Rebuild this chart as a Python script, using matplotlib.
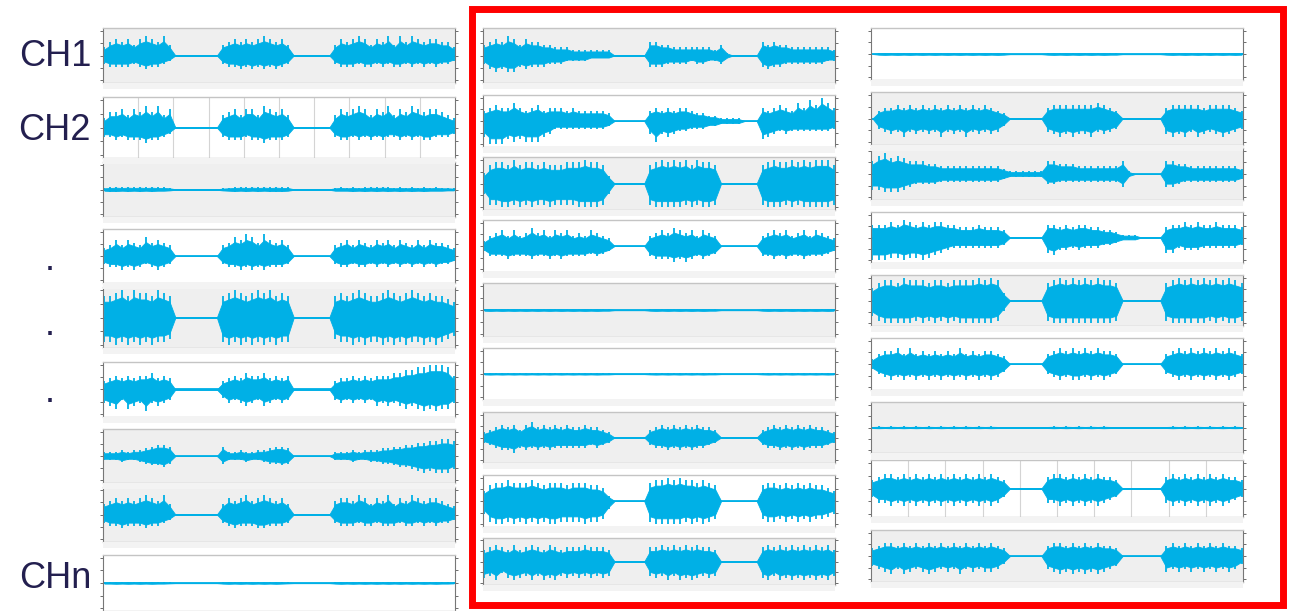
"""Montage of multichannel EMG-like traces, three columns of nine channels."""
import numpy as np
import matplotlib
matplotlib.use("Agg")
import matplotlib.pyplot as plt
from matplotlib.patches import Rectangle

# envelope levels, one digit per step (tenths of half-height)
# segments per column: burst1 / gap / burst2 / gap / burst3
LEFT_UP = [
    "356564676574 00000000 456565676564 0000000 465676465747576566553",
    "355646575746 00000000 456466476564 0000000 465676465746576566543",
    "456565656554 11111111 345656565655 1111111 454545656545454545443",
    "346465475654 00000000 457687586564 0000000 456465465646546465543",
    "778979887987 00000000 789878989787 0000000 787898778987898787765",
    "345454556454 00000000 345465564545 0000000 344545455566778899985",
    "222323345665 00000000 522322334554 0000000 222323334455667788998",
    "456565676574 00000000 465675676564 0000000 566576465746576566543",
    "334343434332 11111111 343434343432 1111111 343434343434343434332",
]
LEFT_LO = [
    "344443454432 00000000 344545454543 0000000 344434434344343434332",
    "334344454432 00000000 344434454443 0000000 344343434334343443332",
    "455454545443 11111111 345454545554 1111111 444545454545454544433",
    "344545434543 00000000 344545454443 0000000 344344343434343434332",
    "889898989887 00000000 898989898988 0000000 788989889898988989876",
    "567476585654 00000000 354565465454 0000000 454545465656767878775",
    "222322345564 00000000 422232234454 0000000 222322334456678989997",
    "344544454432 00000000 345444554443 0000000 344434434443443434332",
    "334343434332 11111111 343434343432 1111111 343434343434343434332",
]
LEFT_GAIN = [1, 1, 0.15, 1, 1, 1, 0.7, 1, 0.1]

MID_UP = [
    "4565764655443332222222 000000 554433333332 4100000 5454433333332",
    "4565575456455545444443 000000 454545543322 1111000 5456547586975",
    "4788797887877788898873 000000 789898979887 0000000 7898898989997",
    "2456464575646564546543 000000 456576564654 0000000 4565645646543",
    "3434343434343434343433 111111 343434343433 1111111 3434343434343",
    "3434343434343434343433 111111 343434343433 1111111 3434343434343",
    "2345453564545454454432 000000 345454545443 0000000 3454545454432",
    "4677877787677767776652 000000 788989887876 0000000 6776767676654",
    "5676575676576566676665 000000 667676767665 0000000 6767676767675",
]
MID_LO = [
    "3565664544433322221111 000000 444333323322 3100000 4544333333322",
    "6999787888653333333332 000000 585654433322 1111000 7654544444443",
    "4889989898898888999984 000000 899999898998 0000000 8999898999998",
    "2444544454454544443432 000000 455565654543 0000000 4454544544432",
    "3434343434343434343433 111111 343434343433 1111111 3434343434343",
    "3434343434343434343433 111111 343434343433 1111111 3434343434343",
    "2345564545454444443432 000000 344545454432 0000000 3445454544432",
    "5899898989899888898873 000000 899999898987 0000000 7887878787765",
    "7685787686878676767676 000000 676868787676 0000000 7868787878786",
]
MID_GAIN = [1, 1, 1, 1, 0.12, 0.08, 1, 1, 1]

RIGHT_UP = [
    "0343434343434343434343 111111 343434343433 1111111 3434343434343",
    "0344545454545454545432 000000 455555556543 0000000 4555554555543",
    "5786765554433333333332 111111 554443333333 5100000 5544333333332",
    "5556576565665544454443 000000 554545544332 1110000 4556565565554",
    "5788798887887888898983 000000 789898989887 0000000 7898989898987",
    "2455646454545464545543 000000 456565656554 0000000 4565656565654",
    "3434343434343434343433 111111 343434343433 1111111 3434343434343",
    "3455454545454545454543 000000 455454545443 0000000 4545454545443",
    "3455454545454545454543 000000 455454545443 0000000 4545454545443",
]
RIGHT_LO = [
    "0343434343434343434343 111111 343434343433 1111111 3434343434343",
    "0456575656575657565653 000000 567676675654 0000000 6767576567654",
    "6677765444433333333332 111111 443333333333 5100000 5543333333332",
    "9998898898765444444443 000000 675545444332 1110000 6645554444443",
    "6899999898989899999984 000000 899999999998 0000000 8999999898998",
    "2456565656565656565653 000000 456566565654 0000000 4565656565654",
    "3434343434343434343433 111111 343434343433 1111111 3434343434343",
    "3556565656565656565653 000000 556565656543 0000000 5656565656543",
    "4567576567656575656653 000000 567676767654 0000000 6565656565653",
]
RIGHT_GAIN = [0.12, 1, 1, 1, 1, 1, 0.1, 1, 1]

CH_LABELS = ["CH1", "CH2", "CHn"]

# layout in pixels
W, H = 1296, 611
SIG = "#00b0e6"
GRAY = "#efefef"
INK = "#231f4f"

LEFT_X = (103, 455)
MID_X = (483, 835)
RIGHT_X = (871, 1243)
LEFT_Y = [(28, 83), (97, 158), (162, 217), (229, 283), (287, 348),
          (362, 417), (429, 483), (487, 542), (555, 611)]
MID_Y = [(28, 83), (95, 147), (157, 210), (220, 272), (283, 337),
         (348, 400), (412, 463), (475, 527), (538, 585)]
RIGHT_Y = [(28, 80), (92, 145), (148, 200), (212, 263), (275, 326),
           (338, 390), (402, 453), (460, 517), (530, 582)]
LEFT_BG = [1, 0, 1, 0, 1, 0, 1, 1, 0]
MID_BG = [1, 0, 1, 0, 1, 0, 1, 0, 1]
RIGHT_BG = [0, 1, 1, 0, 1, 0, 1, 0, 1]
LEFT_GRID = [1]
RIGHT_GRID = [7]


def levels(s):
    return np.array([int(c) for c in s.replace(" ", "")]) / 10.0


def draw_side(ax, vals, sign):
    x = np.linspace(0.004, 0.996, len(vals))
    # jagged band plus a thin spike at every reading
    ax.fill_between(x, 0, sign * vals * 0.74, color=SIG, lw=0.6)
    ax.vlines(x, 0, sign * vals, color=SIG, lw=1.3)


def draw_channel(fig, xs, ys, up, lo, gain, gray, grid):
    # faint strip under each screenshot panel
    fig.add_artist(Rectangle((xs[0] / W, 1 - (ys[1] + 6) / H), (xs[1] - xs[0]) / W, 6 / H,
                             transform=fig.transFigure, color="#f3f3f3", lw=0))
    ax = fig.add_axes([xs[0] / W, 1 - ys[1] / H, (xs[1] - xs[0]) / W, (ys[1] - ys[0]) / H])
    ax.set_facecolor(GRAY if gray else "white")
    ax.set_xlim(0, 1)
    ax.set_ylim(-1, 1)
    if grid:
        for gx in np.arange(0.1, 1.0, 0.1):
            ax.axvline(gx, color="#d4d4d4", lw=0.8, zorder=0)
    draw_side(ax, levels(up) * gain, 1)
    draw_side(ax, levels(lo) * gain, -1)
    ax.axhline(0, color=SIG, lw=1.3)
    ax.set_xticks([])
    ax.set_yticks([-0.9, -0.45, 0, 0.45, 0.9])
    ax.tick_params(axis="y", left=True, right=True, length=2, width=0.6,
                   color="#555555", labelleft=False, labelright=False)
    for side in ("left", "right"):
        ax.spines[side].set_color("#777777")
        ax.spines[side].set_linewidth(0.8)
    for side in ("top", "bottom"):
        ax.spines[side].set_color("#c4c4c4")
        ax.spines[side].set_linewidth(1.0)
    return ax


def main():
    plt.rcParams["font.family"] = ["Liberation Sans", "DejaVu Sans"]
    fig = plt.figure(figsize=(W / 100, H / 100), dpi=100)

    columns = [
        (LEFT_X, LEFT_Y, LEFT_UP, LEFT_LO, LEFT_GAIN, LEFT_BG, LEFT_GRID),
        (MID_X, MID_Y, MID_UP, MID_LO, MID_GAIN, MID_BG, []),
        (RIGHT_X, RIGHT_Y, RIGHT_UP, RIGHT_LO, RIGHT_GAIN, RIGHT_BG, RIGHT_GRID),
    ]
    for xs, ys_list, ups, los, gains, bgs, grids in columns:
        for i, ys in enumerate(ys_list):
            draw_channel(fig, xs, ys, ups[i], los[i], gains[i], bgs[i], i in grids)

    # channel names on the left
    for label, yc in zip(CH_LABELS, [57, 130, 578]):
        fig.text(91 / W, 1 - yc / H, label, ha="right", va="center",
                 fontsize=26, color=INK)
    for yb in [270, 335, 402]:
        fig.text(50 / W, 1 - yb / H, ".", ha="center", va="baseline",
                 fontsize=26, color=INK)

    # red frame around the two right-hand columns
    fig.add_artist(Rectangle((472 / W, 1 - 605 / H), (1283 - 472) / W, (605 - 8.5) / H,
                             transform=fig.transFigure, fill=False,
                             edgecolor="#ff0000", lw=5))

    fig.savefig("out.png", dpi=100)


if __name__ == "__main__":
    main()
